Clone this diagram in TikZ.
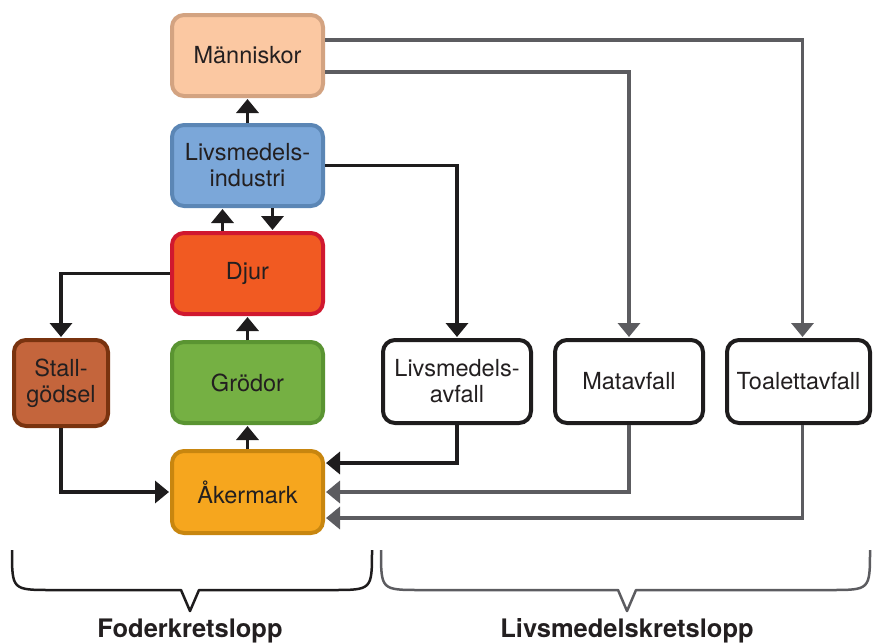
\documentclass[tikz,border=0pt]{standalone}
\usepackage{fontspec}
\setmainfont{TeX Gyre Heros}
\usetikzlibrary{arrows.meta}
\definecolor{txt}{HTML}{231F20}
\definecolor{mfill}{HTML}{FBC8A2}
\definecolor{mdraw}{HTML}{D3A381}
\definecolor{lfill}{HTML}{7BA7D9}
\definecolor{ldraw}{HTML}{5B86B5}
\definecolor{dfill}{HTML}{F15A22}
\definecolor{ddraw}{HTML}{D0182F}
\definecolor{gfill}{HTML}{75B043}
\definecolor{gdraw}{HTML}{5A9432}
\definecolor{afill}{HTML}{F6A61E}
\definecolor{adraw}{HTML}{C8860F}
\definecolor{sfill}{HTML}{C4653C}
\definecolor{sdraw}{HTML}{79330F}
\definecolor{grayline}{HTML}{5C5C60}
\definecolor{blackline}{HTML}{1E1C1D}
\begin{document}
\begin{tikzpicture}[x=1pt,y=-1pt,
  box/.style={draw, rounded corners=12pt, line width=4pt, minimum width=151pt,
    minimum height=81pt, align=center, inner sep=0pt, text=txt,
    font=\fontsize{23.5}{26}\selectfont},
  wbox/.style={box, draw=blackline, fill=white, minimum width=148pt, minimum height=83pt},
  arr/.style={line width=3.5pt, draw=blackline, shorten >=1pt,
    -{Triangle[width=22pt,length=14pt]}},
  garr/.style={arr, draw=grayline},
  brace/.style={line width=2.5pt, line join=round},
  lab/.style={font=\bfseries\fontsize{25.5}{28}\selectfont, text=txt, anchor=base, inner sep=0pt}
]
\useasboundingbox (0,0) rectangle (873,643);

\node[box, fill=mfill, draw=mdraw] (M) at (247.5,55.5) {Människor};
\node[box, fill=lfill, draw=ldraw] (L) at (247.5,165.5) {Livsmedels-\\industri};
\node[box, fill=dfill, draw=ddraw] (D) at (247.5,273.5) {Djur};
\node[box, fill=gfill, draw=gdraw] (G) at (247.5,382.5) {Grödor};
\node[box, fill=afill, draw=adraw, minimum height=82pt] (A) at (247.5,492) {Åkermark};
\node[box, fill=sfill, draw=sdraw, minimum width=94pt, minimum height=86pt] (S) at (61,383) {Stall-\\gödsel};
\node[wbox] (LA) at (457,381.5) {Livsmedels-\\avfall};
\node[wbox] (MA) at (629,381.5) {Matavfall};
\node[wbox, minimum width=143pt] (TA) at (798.5,381.5) {Toalettavfall};

% vertical chain
\draw[arr] (L.north) -- (M.south);
\draw[arr] ([xshift=-25pt]D.north) -- ([xshift=-25pt]L.south);
\draw[arr] ([xshift=25pt]L.south) -- ([xshift=25pt]D.north);
\draw[arr] (G.north) -- (D.south);
\draw[arr] (A.north) -- (G.south);

% feed loop
\draw[arr] (D.west) -| (S.north);
\draw[arr] (S.south) |- (A.west);
\draw[arr] (L.east) -| (LA.north);
\draw[arr] (LA.south) |- ([yshift=29pt]A.east);

% food loop
\draw[garr] ([yshift=15.5pt]M.east) -| ([xshift=4pt]TA.north);
\draw[garr] ([yshift=-16.5pt]M.east) -| (MA.north);
\draw[garr] (MA.south) |- (A.east);
\draw[garr] ([xshift=4pt]TA.south) |- ([yshift=-26pt]A.east);

% braces
\draw[brace, draw=blackline] (12,550) .. controls (12,590) and (12,590) .. (52,590)
  -- (181,590) -- (190,611) -- (199,590) -- (332,590)
  .. controls (372,590) and (372,590) .. (372,550);
\draw[brace, draw=grayline] (381,550) .. controls (381,590) and (381,590) .. (421,590)
  -- (618,590) -- (627,611) -- (636,590) -- (830,590)
  .. controls (870,590) and (870,590) .. (870,550);

\node[lab] (f) at (190,637) {Foderkretslopp};
\node[lab] (l) at (627,637) {Livsmedelskretslopp};
\end{tikzpicture}
\end{document}
